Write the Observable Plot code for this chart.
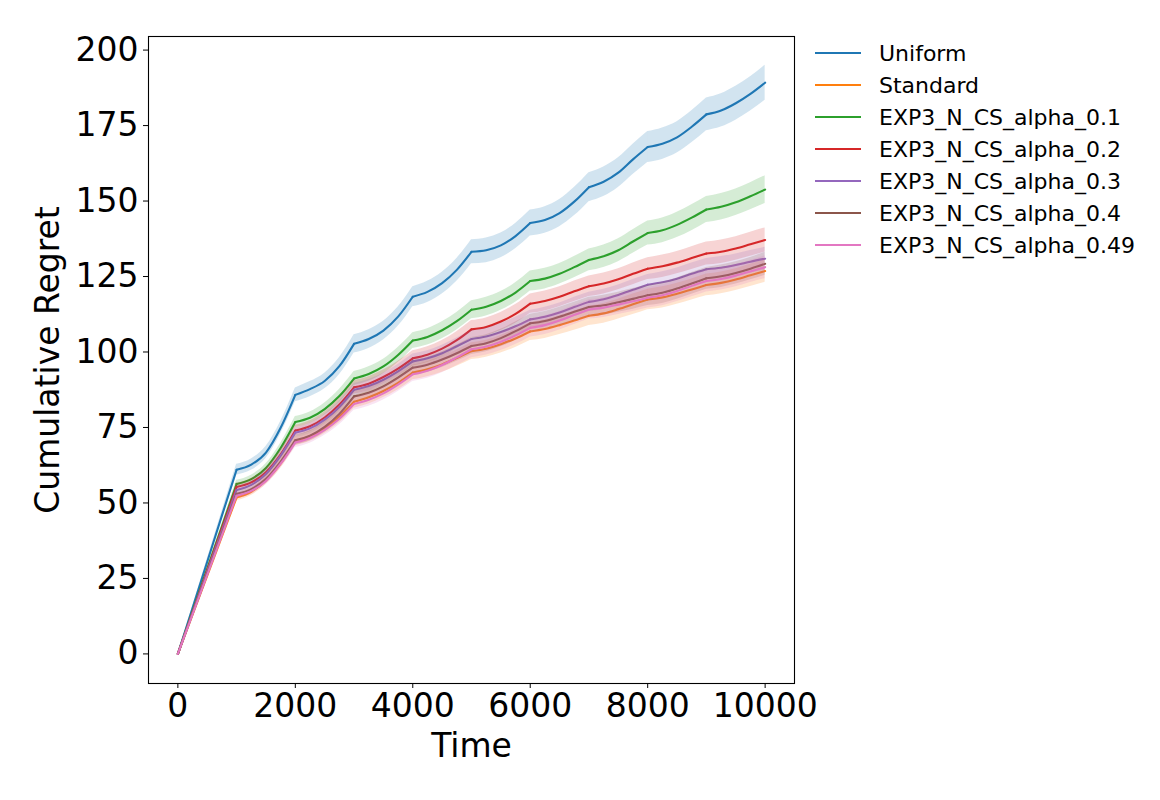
<!DOCTYPE html>
<html>
<head>
<meta charset="utf-8">
<script src="https://cdn.jsdelivr.net/npm/d3@7"></script>
<script src="https://cdn.jsdelivr.net/npm/@observablehq/plot@0.6"></script>
<style>
  html, body { margin: 0; padding: 0; background: #fff; }
  #wrap { position: relative; width: 1160px; height: 800px; font-family: "DejaVu Sans", sans-serif; }
  #chart { position: absolute; left: 0; top: 0; }
  #legend { position: absolute; left: 815px; top: 37px; font-size: 22px; color: #000; }
  .row { display: flex; align-items: center; height: 32px; }
  .sw { width: 46px; height: 2px; margin-right: 18px; }
</style>
</head>
<body>
<div id="wrap"><div id="chart"></div><div id="legend"></div></div>
<script>
const time = [0,250,500,750,1000,1250,1500,1750,2000,2250,2500,2750,3000,3250,3500,3750,4000,4250,4500,4750,5000,
  5250,5500,5750,6000,6250,6500,6750,7000,7250,7500,7750,8000,8250,8500,8750,9000,9250,9500,9750,10000];

const seriesNames = ["Uniform","Standard","EXP3_N_CS_alpha_0.1","EXP3_N_CS_alpha_0.2","EXP3_N_CS_alpha_0.3","EXP3_N_CS_alpha_0.4","EXP3_N_CS_alpha_0.49"];
const seriesColors = ["#1f77b4","#ff7f0e","#2ca02c","#d62728","#9467bd","#8c564b","#e377c2"];

const uniform = [0,15.2,30.5,45.8,61.0, 62.7,66.7,74.9,85.8, 87.7,90.4,95.3,102.7, 104.3,107.1,111.7,118.3,
  119.9,122.8,127.2,133.2, 133.7,135.3,138.4,142.7, 143.7,146.0,149.8,154.6, 156.4,159.4,163.8,167.9,
  169.0,171.1,174.6,178.7, 180.0,182.4,185.5,189.2];
const standard = [0,13.0,25.9,38.9,51.8, 53.7,57.4,63.0,70.5, 72.1,74.8,78.6,83.5, 85.0,87.1,89.8,93.2,
  94.3,95.9,98.0,100.3, 101.1,102.6,104.5,106.8, 107.6,108.9,110.4,112.0, 112.8,114.2,115.8,117.4,
  118.1,119.3,120.7,122.2, 122.9,124.0,125.4,126.8];
const alpha01 = [0,14.1,28.2,42.2,56.3, 57.9,61.6,68.2,76.8, 78.2,81.1,85.4,91.2, 92.7,95.2,99.0,103.8,
  105.0,107.2,110.2,114.0, 115.0,116.9,119.7,123.5, 124.3,125.9,128.1,130.5, 131.7,133.7,136.6,139.4,
  140.3,142.1,144.5,147.2, 148.1,149.6,151.6,153.8];
const alpha02 = [0,13.8,27.7,41.5,55.3, 56.8,60.2,66.1,74.0, 75.4,78.3,82.6,88.3, 89.5,91.7,94.5,97.9,
  99.1,101.1,103.9,107.5, 108.3,110.1,112.6,116.0, 116.9,118.3,120.1,121.8, 122.7,124.1,125.9,127.6,
  128.4,129.6,131.1,132.6, 133.2,134.3,135.7,137.1];
const alpha03 = [0,13.6,27.2,40.7,54.3, 56.0,59.6,65.7,73.3, 74.7,77.6,81.8,87.5, 88.7,90.8,93.6,96.9,
  97.9,99.6,101.9,104.3, 105.1,106.6,108.5,110.8, 111.7,113.1,114.9,116.6, 117.5,118.9,120.6,122.3,
  123.1,124.3,125.9,127.4, 127.9,128.8,129.9,130.9];
const alpha04 = [0,13.3,26.5,39.8,53.0, 54.6,58.0,63.7,70.8, 72.3,75.2,79.5,85.3, 86.5,88.6,91.5,94.8,
  95.8,97.5,99.6,102.0, 102.9,104.6,106.9,109.5, 110.3,111.7,113.3,114.9, 115.5,116.5,117.6,118.8,
  119.6,121.0,122.7,124.4, 125.1,126.2,127.6,129.2];
const alpha049 = [0,13.1,26.2,39.3,52.4, 54.0,57.3,63.0,70.0, 71.5,74.2,77.9,82.8, 84.2,86.3,89.2,92.6,
  93.8,95.7,98.2,100.9, 101.8,103.4,105.5,108.0, 108.9,110.4,112.3,114.1, 114.7,115.7,116.8,118.0,
  118.8,120.2,121.9,123.5, 124.2,125.3,126.7,128.1];

// half-width of the shaded confidence band
const uniformCI = [0,0.5,0.9,1.4,1.8, 1.9,2.0,2.1,2.3, 2.5,2.6,2.8,3.0, 3.1,3.1,3.2,3.3, 3.5,3.6,3.8,4.0,
  4.1,4.1,4.2,4.3, 4.4,4.5,4.7,4.8, 4.9,4.9,5.0,5.1, 5.2,5.2,5.3,5.4, 5.5,5.6,5.7,5.8];
const standardCI = [0,0.3,0.6,0.9,1.1, 1.2,1.3,1.5,1.6, 1.7,1.8,2.0,2.1, 2.2,2.2,2.3,2.4, 2.5,2.6,2.7,2.8,
  2.8,2.9,3.0,3.0, 3.1,3.1,3.2,3.2, 3.3,3.3,3.4,3.4, 3.5,3.5,3.5,3.6, 3.6,3.6,3.7,3.7];
const alpha01CI = [0,0.3,0.6,0.9,1.2, 1.3,1.4,1.6,1.8, 1.9,2.0,2.2,2.3, 2.4,2.4,2.5,2.6, 2.7,2.8,2.9,3.0,
  3.1,3.1,3.2,3.3, 3.4,3.4,3.5,3.6, 3.7,3.8,3.9,4.0, 4.1,4.2,4.3,4.3, 4.4,4.4,4.5,4.6];
const alpha02CI = [0,0.3,0.6,0.9,1.2, 1.3,1.4,1.6,1.7, 1.8,1.9,2.1,2.2, 2.3,2.3,2.4,2.5, 2.6,2.7,2.8,2.9,
  3.0,3.0,3.1,3.2, 3.3,3.3,3.4,3.4, 3.5,3.5,3.6,3.6, 3.7,3.7,3.8,3.8, 3.9,3.9,4.0,4.0];
const alpha03CI = [0,0.3,0.6,0.9,1.1, 1.2,1.3,1.5,1.6, 1.7,1.8,2.0,2.1, 2.2,2.2,2.3,2.4, 2.5,2.6,2.7,2.8,
  2.8,2.9,3.0,3.0, 3.1,3.1,3.2,3.2, 3.3,3.3,3.4,3.4, 3.5,3.5,3.6,3.6, 3.7,3.7,3.7,3.8];
const alpha04CI = [0,0.3,0.6,0.9,1.1, 1.2,1.3,1.5,1.6, 1.7,1.8,2.0,2.1, 2.2,2.2,2.3,2.4, 2.5,2.6,2.7,2.8,
  2.8,2.9,3.0,3.0, 3.1,3.1,3.2,3.2, 3.3,3.3,3.4,3.4, 3.5,3.5,3.6,3.6, 3.7,3.7,3.7,3.8];
const alpha049CI = [0,0.3,0.6,0.9,1.1, 1.2,1.3,1.5,1.6, 1.7,1.8,2.0,2.1, 2.2,2.2,2.3,2.4, 2.5,2.6,2.7,2.8,
  2.8,2.9,3.0,3.0, 3.1,3.1,3.2,3.2, 3.3,3.3,3.4,3.4, 3.5,3.5,3.6,3.6, 3.7,3.7,3.7,3.8];

const yTicks = [0,25,50,75,100,125,150,175,200];
const xTicks = [0,2000,4000,6000,8000,10000];
const segmentLength = 1000; // regret restarts its curvature at every 1000-step block

const means = [uniform, standard, alpha01, alpha02, alpha03, alpha04, alpha049];
const cis = [uniformCI, standardCI, alpha01CI, alpha02CI, alpha03CI, alpha04CI, alpha049CI];

// rows: a point at a block boundary belongs to both adjacent blocks, so each block is a smooth piece with a kink between
const rows = [];
seriesNames.forEach((name, s) => {
  time.forEach((t, i) => {
    const base = {series: name, time: t, value: means[s][i], lo: means[s][i] - cis[s][i], hi: means[s][i] + cis[s][i]};
    const blk = Math.floor(t / segmentLength);
    if (t % segmentLength === 0 && t > 0) rows.push({...base, key: name + "|" + (blk - 1)});
    if (t < time[time.length - 1]) rows.push({...base, key: name + "|" + blk});
  });
});

const marks = [];
seriesNames.forEach((name) => {
  const d = rows.filter(r => r.series === name);
  marks.push(Plot.areaY(d, {x: "time", y1: "lo", y2: "hi", z: "key", fill: "series", fillOpacity: 0.2, curve: "monotone-x"}));
  marks.push(Plot.areaY(d, {x: "time", y1: "lo", y2: "hi", z: "key", fill: "series", fillOpacity: 0, curve: "monotone-x"}));
});
const lineMarks = [];
seriesNames.forEach((name) => {
  const d = rows.filter(r => r.series === name);
  lineMarks.push(Plot.lineY(d, {x: "time", y: "value", z: "key", stroke: "series", strokeWidth: 2.1, curve: "monotone-x"}));
});
// draw in seaborn order: band then line for each series
const ordered = [];
seriesNames.forEach((name, i) => { ordered.push(marks[2 * i]); ordered.push(lineMarks[i]); });

const chart = Plot.plot({
  width: 840,
  height: 800,
  marginLeft: 148,
  marginRight: 46,
  marginTop: 36,
  marginBottom: 117,
  style: {fontFamily: "DejaVu Sans, sans-serif", background: "transparent", color: "#000", overflow: "visible"},
  x: {domain: [-500, 10500]},
  y: {domain: [-9.8, 204.5]},
  color: {domain: seriesNames, range: seriesColors},
  marks: [
    ...ordered,
    Plot.frame({stroke: "#000", strokeWidth: 1.1}),
    Plot.axisX({ticks: xTicks, tickFormat: d => String(d), tickSize: 5, tickPadding: 5, fontSize: 33,
      label: "Time", labelAnchor: "center", labelArrow: "none", labelOffset: 73}),
    Plot.axisY({ticks: yTicks, tickFormat: d => String(d), tickSize: 5, tickPadding: 5, fontSize: 33,
      label: "Cumulative Regret", labelAnchor: "center", labelArrow: "none", labelOffset: 113})
  ]
});
document.getElementById("chart").appendChild(chart);

const legend = document.getElementById("legend");
seriesNames.forEach((name, i) => {
  const row = document.createElement("div");
  row.className = "row";
  const sw = document.createElement("div");
  sw.className = "sw";
  sw.style.background = seriesColors[i];
  const label = document.createElement("span");
  label.textContent = name;
  row.appendChild(sw);
  row.appendChild(label);
  legend.appendChild(row);
});
</script>
</body>
</html>
